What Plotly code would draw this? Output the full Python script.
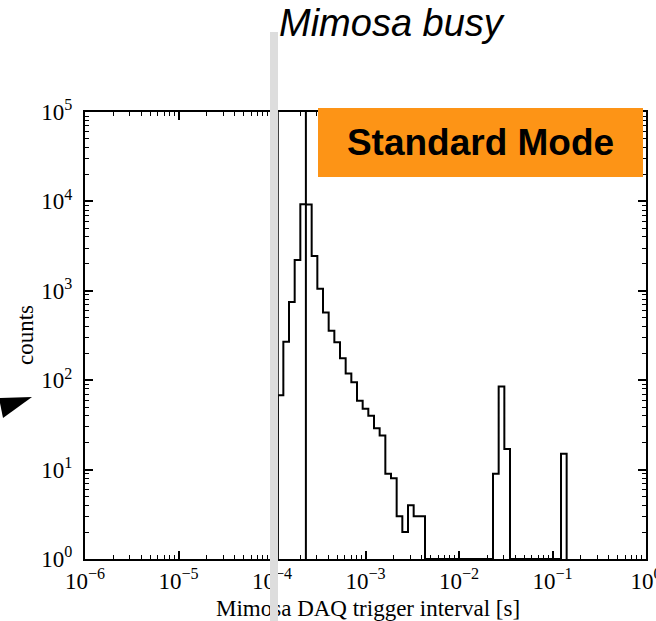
import plotly.graph_objects as go

# ---- data ----
# histogram bin edges [s] (log-spaced bins), 52 edges -> 51 bins
bin_edges = [
    1.150e-4, 1.322e-4, 1.520e-4, 1.748e-4, 2.009e-4, 2.310e-4, 2.656e-4, 3.054e-4,
    3.511e-4, 4.037e-4, 4.642e-4, 5.337e-4, 6.136e-4, 7.055e-4, 8.111e-4, 9.326e-4,
    1.072e-3, 1.233e-3, 1.417e-3, 1.630e-3, 1.874e-3, 2.154e-3, 2.477e-3, 2.848e-3,
    3.275e-3, 3.765e-3, 4.329e-3, 4.977e-3, 5.722e-3, 6.579e-3, 7.565e-3, 8.697e-3,
    1.000e-2, 1.150e-2, 1.322e-2, 1.520e-2, 1.748e-2, 2.009e-2, 2.310e-2, 2.656e-2,
    3.054e-2, 3.511e-2, 4.037e-2, 4.642e-2, 5.337e-2, 6.136e-2, 7.055e-2, 8.111e-2,
    9.326e-2, 1.072e-1, 1.233e-1, 1.417e-1,
]
bin_counts = [
    68, 270, 750, 2210, 9300, 9250, 2450, 1055, 570, 358, 265, 176, 119, 95, 59, 48,
    40, 29, 24, 9, 8, 3, 2, 4, 3, 3,
    0, 0, 0, 0, 0, 0, 0, 0, 0, 0, 0, 0,
    9, 85, 17,
    0, 0, 0, 0, 0, 0, 0, 0, 0,
    15,
]
marker_lines = [1.152e-4, 2.304e-4]   # vertical reference lines [s]

x_tick_vals = [1e-6, 1e-5, 1e-4, 1e-3, 1e-2, 1e-1, 1e0]
x_tick_text = ["10<sup>\u22126</sup>", "10<sup>\u22125</sup>", "10<sup>\u22124</sup>",
               "10<sup>\u22123</sup>", "10<sup>\u22122</sup>", "10<sup>\u22121</sup>",
               "10<sup>0</sup>"]
y_tick_vals = [1, 10, 100, 1000, 10000, 100000]
y_tick_text = ["10<sup>0</sup>", "10<sup>1</sup>", "10<sup>2</sup>",
               "10<sup>3</sup>", "10<sup>4</sup>", "10<sup>5</sup>"]

Y_FLOOR = 1  # bottom of the log axis, used for empty bins

# ---- geometry helpers (pixel -> paper) ----
W, H = 656, 621
L, R, T, B = 85, 10, 112, 62
PW, PH = W - L - R, H - T - B


def px(x):
    return (x - L) / PW


def py(y):
    return (H - B - y) / PH


fig = go.Figure()

# step histogram
hx = [bin_edges[0]] + bin_edges
hy = [Y_FLOOR] + [c if c > 0 else Y_FLOOR for c in bin_counts] + [Y_FLOOR]
fig.add_trace(go.Scatter(x=hx, y=hy, mode="lines", line=dict(color="black", width=2, shape="hv"),
                         showlegend=False, hoverinfo="skip", cliponaxis=True))

for v in marker_lines:
    fig.add_trace(go.Scatter(x=[v, v], y=[y_tick_vals[0], y_tick_vals[-1]], mode="lines",
                             line=dict(color="black", width=2), showlegend=False,
                             hoverinfo="skip"))

# invisible trace to activate the mirrored (top / right) axes
fig.add_trace(go.Scatter(x=[1e-3], y=[10], xaxis="x2", yaxis="y2", mode="markers",
                         marker=dict(opacity=0), showlegend=False, hoverinfo="skip"))

tickfont = dict(family="Liberation Serif", size=23, color="black")
minor = dict(ticks="inside", ticklen=4, tickwidth=1.2, tickcolor="black",
             dtick="D1", showgrid=False)
common = dict(type="log", showline=True, linecolor="black", linewidth=2, mirror=False,
              ticks="inside", ticklen=8, tickwidth=1.5, tickcolor="black",
              showgrid=False, zeroline=False, tickfont=tickfont, tickmode="array",
              minor=minor, ticklabeloverflow="allow")

fig.update_layout(
    xaxis=dict(range=[-6, 0], tickvals=x_tick_vals, ticktext=x_tick_text, **common),
    yaxis=dict(range=[0, 5], tickvals=y_tick_vals, ticktext=y_tick_text,
               ticklabelstandoff=6, **common),
    xaxis2=dict(range=[-6, 0], tickvals=x_tick_vals, ticktext=x_tick_text,
                overlaying="x", side="top", anchor="y", showticklabels=False, **common),
    yaxis2=dict(range=[0, 5], tickvals=y_tick_vals, ticktext=y_tick_text,
                overlaying="y", side="right", anchor="x", showticklabels=False, **common),
)

# black arrowhead at the left
fig.add_shape(type="path", xref="paper", yref="paper",
              path=f"M {px(-1)} {py(398)} L {px(32)} {py(397)} L {px(3)} {py(418)} Z",
              fillcolor="black", line=dict(width=0), layer="above")

annotations = [
    dict(text="Mimosa DAQ trigger interval [s]", x=px(368), y=py(608), xref="paper", yref="paper",
         xanchor="center", yanchor="middle", showarrow=False,
         font=dict(family="Liberation Serif", size=23, color="black")),
    dict(text="counts", x=px(25), y=py(335), xref="paper", yref="paper", textangle=-90,
         xanchor="center", yanchor="middle", showarrow=False,
         font=dict(family="Liberation Serif", size=23, color="black")),
    dict(text="Mimosa busy", x=px(277), y=py(23), xref="paper", yref="paper",
         xanchor="left", yanchor="middle", showarrow=False,
         font=dict(family="Liberation Sans", size=38, color="black", style="italic")),
    dict(text="<b>Standard Mode</b>", x=px(480.7), y=py(142.3), xref="paper", yref="paper",
         xanchor="center", yanchor="middle", showarrow=False, width=325, height=69,
         borderpad=0, borderwidth=0, bgcolor="#fd9416",
         font=dict(family="Liberation Sans", size=37, color="black")),
    dict(text=" ", x=px(273.6), y=py(32), xref="paper", yref="paper",
         xanchor="center", yanchor="top", showarrow=False, width=8, height=600,
         borderpad=0, borderwidth=0, bgcolor="#dddddd",
         font=dict(size=10)),
]
fig.update_layout(annotations=annotations)

fig.update_layout(width=W, height=H, margin=dict(l=L, r=R, t=T, b=B, pad=0, autoexpand=False),
                  paper_bgcolor="white", plot_bgcolor="white", showlegend=False)

fig.write_html("out.html", config={"displayModeBar": False},
               post_script="document.body.style.margin='0';")
